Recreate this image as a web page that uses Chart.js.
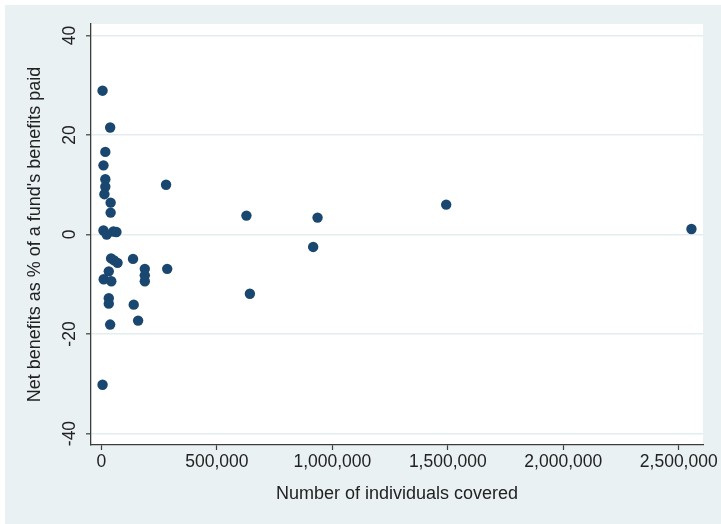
<!DOCTYPE html>
<html>
<head>
<meta charset="utf-8">
<script src="https://cdn.jsdelivr.net/npm/chart.js@4/dist/chart.umd.min.js"></script>
<style>
  html, body { margin: 0; padding: 0; background: #ffffff; }
  #c { display: block; }
</style>
</head>
<body>
<canvas id="c" width="721" height="524"></canvas>
<script>
// ---- Data ----
const individualsCovered = [
  5000, 38000, 17000, 9000, 17000, 17000, 13000, 40000, 40000, 280000,
  9000, 23000, 52000, 65000,
  42000, 55000, 70000, 137000, 188000, 188000, 188000, 285000,
  32000, 10000, 43000, 32000, 32000, 140000, 38000, 159000, 5000,
  628000, 643000, 936000, 917000, 1493000, 2555000
];
const netBenefitsPct = [
  28.9, 21.5, 16.6, 13.9, 11.1, 9.6, 8.1, 6.4, 4.4, 10.0,
  0.8, 0.0, 0.6, 0.5,
  -4.8, -5.2, -5.7, -4.9, -6.9, -8.2, -9.4, -6.9,
  -7.4, -9.0, -9.4, -12.8, -13.9, -14.1, -18.1, -17.3, -30.2,
  3.8, -11.9, 3.4, -2.5, 6.0, 1.1
];
const xTickValues = [0, 500000, 1000000, 1500000, 2000000, 2500000];
const xTickLabels = ['0', '500,000', '1,000,000', '1,500,000', '2,000,000', '2,500,000'];
const yTickValues = [-40, -20, 0, 20, 40];
const yTickLabels = ['-40', '-20', '0', '20', '40'];
const xTitle = 'Number of individuals covered';
const yTitle = "Net benefits as % of a fund's benefits paid";

// ---- Style ----
const FONT = "'Liberation Sans', Arial, sans-serif";
const TEXT = '#222222';
const AXIS = '#3c3c3c';
const GRID = '#e3edf0';
const OUTER_BG = '#eaf1f3';
const DOT = '#1a476f';

const points = individualsCovered.map((x, i) => ({ x: x, y: netBenefitsPct[i] }));

const bgPlugin = {
  id: 'bg',
  beforeDraw(chart) {
    const { ctx, chartArea: a } = chart;
    ctx.save();
    ctx.fillStyle = '#ffffff';
    ctx.fillRect(0, 0, chart.width, chart.height);
    ctx.fillStyle = OUTER_BG;
    ctx.fillRect(5, 5, chart.width - 5, chart.height - 5);
    ctx.fillStyle = '#ffffff';
    ctx.fillRect(a.left, a.top, a.right - a.left, a.bottom - a.top);
    ctx.restore();
  }
};

new Chart(document.getElementById('c'), {
  type: 'scatter',
  data: {
    datasets: [{
      data: points,
      backgroundColor: DOT,
      borderColor: DOT,
      borderWidth: 0,
      pointRadius: 5.2,
      pointHoverRadius: 5.2
    }]
  },
  options: {
    responsive: false,
    animation: false,
    events: [],
    layout: { padding: { left: 16, right: 18, top: 24, bottom: 19 } },
    plugins: {
      legend: { display: false },
      tooltip: { enabled: false },
      title: { display: false }
    },
    scales: {
      x: {
        type: 'linear',
        position: 'bottom',
        min: -45000,
        max: 2605000,
        afterBuildTicks(scale) { scale.ticks = xTickValues.map(v => ({ value: v })); },
        afterFit(scale) { scale.height = 60; },
        ticks: {
          callback(value) { const i = xTickValues.indexOf(value); return i >= 0 ? xTickLabels[i] : ''; },
          font: { family: FONT, size: 17.5 },
          color: TEXT,
          padding: 2,
          maxRotation: 0,
          minRotation: 0
        },
        grid: {
          display: true,
          drawOnChartArea: false,
          drawTicks: true,
          tickLength: 5,
          tickColor: AXIS,
          tickWidth: 1.2
        },
        border: { display: true, color: AXIS, width: 1.3 },
        title: {
          display: true,
          text: xTitle,
          font: { family: FONT, size: 18 },
          color: TEXT,
          padding: { top: 0, bottom: 0 }
        }
      },
      y: {
        type: 'linear',
        position: 'left',
        min: -42.3,
        max: 42.3,
        afterBuildTicks(scale) { scale.ticks = yTickValues.map(v => ({ value: v })); },
        afterFit(scale) { scale.width = 75; },
        ticks: {
          callback(value) { const i = yTickValues.indexOf(value); return i >= 0 ? yTickLabels[i] : ''; },
          font: { family: FONT, size: 17.5 },
          color: TEXT,
          padding: 3.6,
          minRotation: 90,
          maxRotation: 90,
          crossAlign: 'center'
        },
        grid: {
          display: true,
          drawOnChartArea: true,
          drawTicks: true,
          color: GRID,
          lineWidth: 1.6,
          tickLength: 5,
          tickColor: AXIS,
          tickWidth: 1.2
        },
        border: { display: true, color: AXIS, width: 1.3 },
        title: {
          display: true,
          text: yTitle,
          font: { family: FONT, size: 18 },
          color: TEXT,
          padding: { top: 8.7, bottom: 0 }
        }
      }
    }
  },
  plugins: [bgPlugin]
});
</script>
</body>
</html>
